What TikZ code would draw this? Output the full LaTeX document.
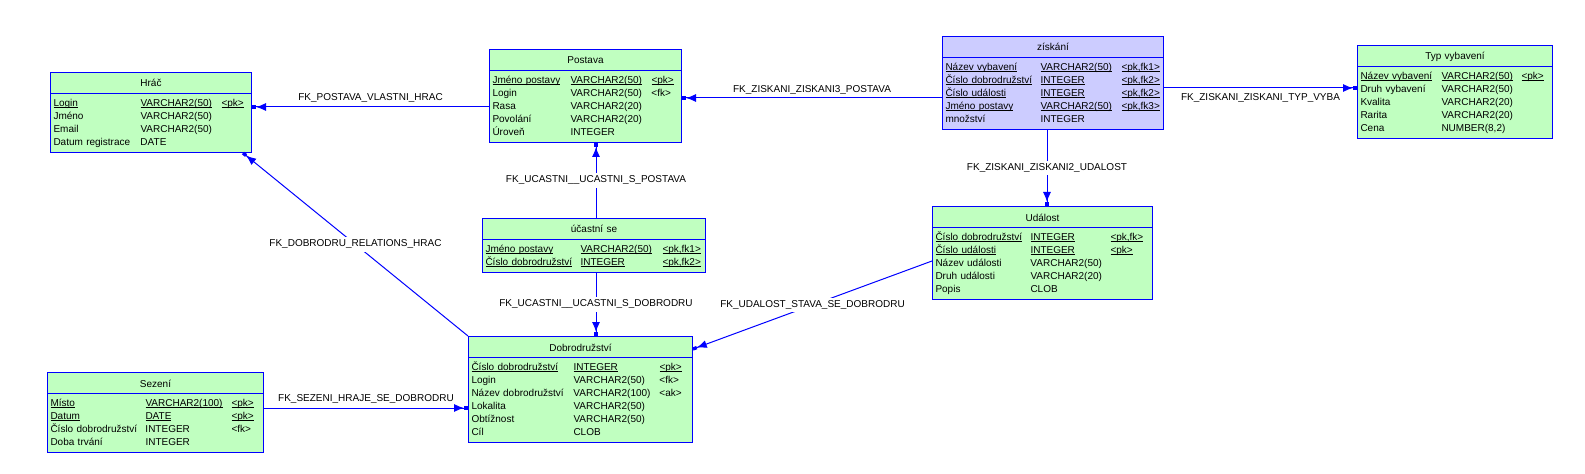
\documentclass[tikz,border=0pt]{standalone}
\usepackage{fontspec}
\setmainfont{Liberation Sans}
\usetikzlibrary{shapes.multipart, arrows.meta}
\definecolor{tblgreen}{HTML}{C0FFC0}
\definecolor{tblblue}{HTML}{CCCCFF}
\newlength\px
\setlength\px{0.75pt}
\setlength\parindent{0pt}
\newcommand{\pkey}[1]{\leavevmode\setbox0\hbox{#1}\rlap{\rule[-1.6pt]{\wd0}{0.6pt}}\box0}
\newcommand{\tblhead}[1]{\rule[-2.25pt]{0pt}{10.5pt}#1}
\newcommand{\fields}[4]{\begin{tabular}{@{}p{#1\px}@{}p{#2\px}@{}p{#3\px}@{}}#4\end{tabular}}

\begin{document}
\begin{tikzpicture}[x=0.75pt,y=-0.75pt,font=\fontsize{7.5}{9.75}\selectfont,
    tbl/.style={rectangle split,rectangle split parts=2,draw=blue,line width=0.75pt,
      fill=tblgreen,anchor=north west,align=center,inner xsep=2.25pt,inner ysep=2.25pt},
    fk/.style={draw=blue,line width=0.75pt,
      -{Latex[length=7.5pt,width=6pt]Rectangle[length=3pt,width=2.5pt]}},
    lbl/.style={inner sep=2pt},
    onl/.style={lbl,fill=white}]
  \useasboundingbox (0,0) rectangle (1585,474);

  \node(hrac)[tbl,text width=146.25pt] at (50,72) {\tblhead{Hráč}\nodepart{two}%
    \fields{87}{81}{27}{\pkey{Login} & \pkey{VARCHAR2(50)} & \pkey{<pk>}\\
      Jméno & VARCHAR2(50) & \\
      Email & VARCHAR2(50) & \\
      Datum registrace & DATE & }};
  \node(postava)[tbl,text width=139.5pt] at (489,49) {\tblhead{Postava}\nodepart{two}%
    \fields{78}{81}{27}{\pkey{Jméno postavy} & \pkey{VARCHAR2(50)} & \pkey{<pk>}\\
      Login & VARCHAR2(50) & <fk>\\
      Rasa & VARCHAR2(20) & \\
      Povolání & VARCHAR2(20) & \\
      Úroveň & INTEGER & }};
  \node(ziskani)[tbl,fill=tblblue,text width=161.25pt] at (942,36) {\tblhead{získání}\nodepart{two}%
    \fields{95}{81}{39}{\pkey{Název vybavení} & \pkey{VARCHAR2(50)} & \pkey{<pk,fk1>}\\
      \pkey{Číslo dobrodružství} & \pkey{INTEGER} & \pkey{<pk,fk2>}\\
      \pkey{Číslo události} & \pkey{INTEGER} & \pkey{<pk,fk2>}\\
      \pkey{Jméno postavy} & \pkey{VARCHAR2(50)} & \pkey{<pk,fk3>}\\
      množství & INTEGER & }};
  \node(typ)[tbl,text width=141.75pt] at (1357,45) {\tblhead{Typ vybavení}\nodepart{two}%
    \fields{81}{80}{28}{\pkey{Název vybavení} & \pkey{VARCHAR2(50)} & \pkey{<pk>}\\
      Druh vybavení & VARCHAR2(50) & \\
      Kvalita & VARCHAR2(20) & \\
      Rarita & VARCHAR2(20) & \\
      Cena & NUMBER(8,2) & }};
  \node(ucastni)[tbl,text width=162.75pt] at (482,218) {\tblhead{účastní se}\nodepart{two}%
    \fields{95}{82}{40}{\pkey{Jméno postavy} & \pkey{VARCHAR2(50)} & \pkey{<pk,fk1>}\\
      \pkey{Číslo dobrodružství} & \pkey{INTEGER} & \pkey{<pk,fk2>}}};
  \node(udalost)[tbl,text width=160.5pt] at (932,206) {\tblhead{Událost}\nodepart{two}%
    \fields{95}{80}{39}{\pkey{Číslo dobrodružství} & \pkey{INTEGER} & \pkey{<pk,fk>}\\
      \pkey{Číslo události} & \pkey{INTEGER} & \pkey{<pk>}\\
      Název události & VARCHAR2(50) & \\
      Druh události & VARCHAR2(20) & \\
      Popis & CLOB & }};
  \node(dobro)[tbl,text width=163.5pt] at (468,336) {\tblhead{Dobrodružství}\nodepart{two}%
    \fields{102}{86}{30}{\pkey{Číslo dobrodružství} & \pkey{INTEGER} & \pkey{<pk>}\\
      Login & VARCHAR2(50) & <fk>\\
      Název dobrodružství & VARCHAR2(100) & <ak>\\
      Lokalita & VARCHAR2(50) & \\
      Obtížnost & VARCHAR2(50) & \\
      Cíl & CLOB & }};
  \node(sezeni)[tbl,text width=157.5pt] at (47,372) {\tblhead{Sezení}\nodepart{two}%
    \fields{95}{86}{29}{\pkey{Místo} & \pkey{VARCHAR2(100)} & \pkey{<pk>}\\
      \pkey{Datum} & \pkey{DATE} & \pkey{<pk>}\\
      Číslo dobrodružství & INTEGER & <fk>\\
      Doba trvání & INTEGER & }};

  \draw[fk] (postava.west |- 0,107) -- node[lbl,above=1pt]{FK\_POSTAVA\_VLASTNI\_HRAC} (hrac.east |- 0,107);
  \draw[fk] (ziskani.west |- 0,98) -- node[lbl,above=0.5pt]{FK\_ZISKANI\_ZISKANI3\_POSTAVA} (postava.east |- 0,98);
  \draw[fk] (ziskani.east |- 0,88) -- node[lbl,below=2pt]{FK\_ZISKANI\_ZISKANI\_TYP\_VYBA} (typ.west |- 0,88);
  \draw[fk] (1047,0 |- ziskani.south) -- node[onl]{FK\_ZISKANI\_ZISKANI2\_UDALOST} (1047,0 |- udalost.north);
  \draw[fk] (596,0 |- ucastni.north) -- node[onl]{FK\_UCASTNI\_\_UCASTNI\_S\_POSTAVA} (596,0 |- postava.south);
  \draw[fk] (596,0 |- ucastni.south) -- node[onl]{FK\_UCASTNI\_\_UCASTNI\_S\_DOBRODRU} (596,0 |- dobro.north);
  \draw[fk] (dobro.north west) -- node[onl]{FK\_DOBRODRU\_RELATIONS\_HRAC} (243,0 |- hrac.south);
  \draw[fk] (udalost.west |- 0,261) -- node[onl]{FK\_UDALOST\_STAVA\_SE\_DOBRODRU} (dobro.east |- 0,349);
  \draw[fk] (sezeni.east |- 0,408) -- node[lbl,above=1pt]{FK\_SEZENI\_HRAJE\_SE\_DOBRODRU} (dobro.west |- 0,408);
\end{tikzpicture}
\end{document}
